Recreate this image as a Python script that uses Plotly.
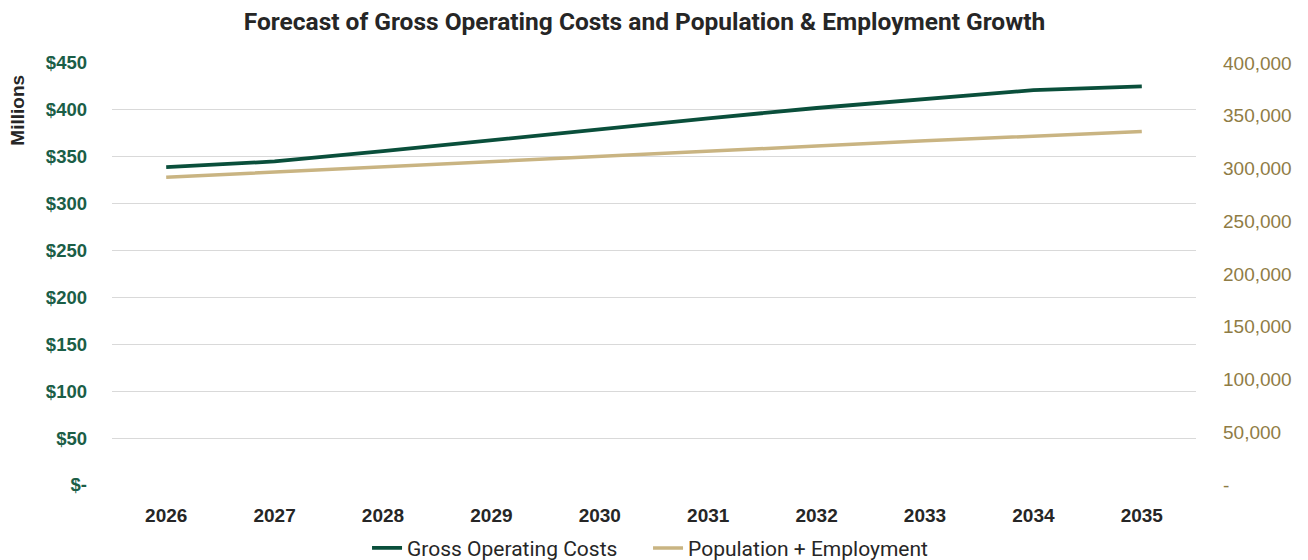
import plotly.graph_objects as go

years = ["2026", "2027", "2028", "2029", "2030", "2031", "2032", "2033", "2034", "2035"]
gross_costs = [339, 345, 356, 368, 379, 391, 402, 412, 421, 425]
pop_emp = [291700, 296500, 301300, 306200, 311000, 316000, 321300, 326300, 331000, 335000]

left_ticks = [0, 50, 100, 150, 200, 250, 300, 350, 400, 450]
left_text = ["$-", "$50", "$100", "$150", "$200", "$250", "$300", "$350", "$400", "$450"]
right_ticks = [0, 50000, 100000, 150000, 200000, 250000, 300000, 350000, 400000]
right_text = ["-", "50,000", "100,000", "150,000", "200,000", "250,000", "300,000", "350,000", "400,000"]

GREEN = "#0A4F3B"
TAN = "#C9B482"
SANS = "Liberation Sans, Arial, sans-serif"
ROBOTO = "Roboto, sans-serif"

fig = go.Figure()
fig.add_trace(go.Scatter(x=years, y=gross_costs, name="Gross Operating Costs", mode="lines",
                         line=dict(color=GREEN, width=3.8), yaxis="y"))
fig.add_trace(go.Scatter(x=years, y=pop_emp, name="Population + Employment", mode="lines",
                         line=dict(color=TAN, width=3.5), yaxis="y2"))

# page body has an 8px margin, so the figure is sized to fit inside the window
fig.update_layout(
    width=1300, height=552,
    paper_bgcolor="white", plot_bgcolor="white",
    margin=dict(l=104, r=112, t=55, b=75, autoexpand=False),
    title=dict(text="<b>Forecast of Gross Operating Costs and Population & Employment Growth</b>",
               x=0.4896, xanchor="center", y=1, yanchor="top", pad=dict(t=5),
               font=dict(family=ROBOTO, size=24.5, color="#262626")),
    xaxis=dict(type="category", range=[-0.5, 9.5], showgrid=False, showline=False, ticks="",
               tickfont=dict(family=SANS, size=19, color="#262626", weight="bold"),
               ticklabelstandoff=17),
    yaxis=dict(range=[0, 450], tickvals=left_ticks, ticktext=left_text, showgrid=True,
               gridcolor="#D9D9D9", gridwidth=1, zeroline=False, showline=False,
               tickfont=dict(family=SANS, size=18.5, color="#1B5E47", weight="bold"),
               ticklabelstandoff=24),
    yaxis2=dict(range=[0, 400000], tickvals=right_ticks, ticktext=right_text, overlaying="y",
                side="right", showgrid=False, zeroline=False, showline=False,
                tickfont=dict(family=SANS, size=19, color="#8F7C45"),
                ticklabelstandoff=26),
    legend=dict(orientation="h", x=0.4945, xanchor="center", y=-0.15, yanchor="middle",
                font=dict(family=ROBOTO, size=21, color="#262626"),
                itemwidth=30, tracegroupgap=0, entrywidth=236, entrywidthmode="pixels"),
    annotations=[dict(text="<b>Millions</b>", textangle=-90, xref="paper", yref="paper",
                      x=-0.0867, y=0.976, xanchor="center", yanchor="top", showarrow=False,
                      font=dict(family=SANS, size=19, color="#262626"))],
)

fig.write_html("out.html")
